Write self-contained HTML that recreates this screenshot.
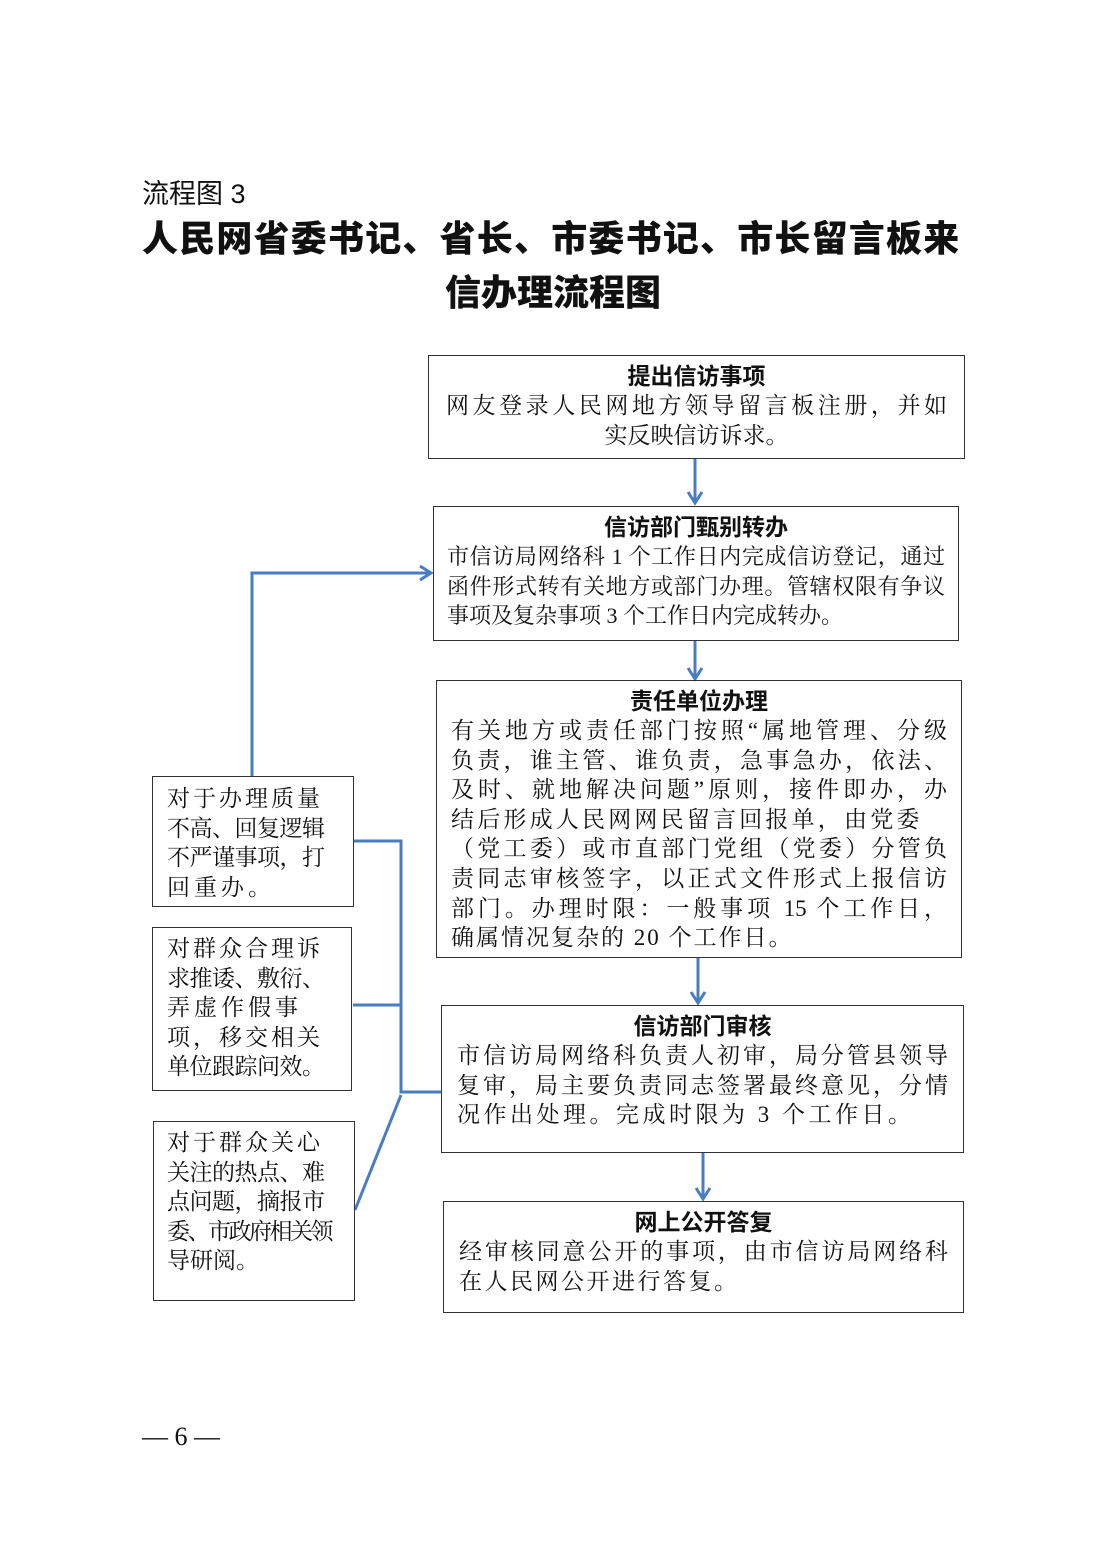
<!DOCTYPE html>
<html><head><meta charset="utf-8"><style>
body{margin:0;background:#fff;}
#p{position:relative;width:1102px;height:1559px;font-family:"Liberation Serif","Noto Serif CJK SC",serif;color:#111;overflow:hidden}
.a{position:absolute}
.box{position:absolute;border:1.5px solid #333;box-sizing:border-box}
.t{font-family:"Liberation Sans","Noto Sans CJK SC",sans-serif;font-weight:bold;text-align:center;font-size:23px;line-height:29px}
.l{font-size:23px;line-height:29.6px;white-space:nowrap}
.j{text-align:justify;text-align-last:justify}
</style></head><body><div id="p">
<div class="a" style="left:142px;top:172px;font-size:27px;font-family:'Liberation Sans','Noto Sans CJK SC',sans-serif">流程图 3</div>
<div class="a" style="left:142px;top:212px;width:822px;font-size:36px;font-weight:900;line-height:54px;font-family:'Liberation Sans','Noto Sans CJK SC',sans-serif;white-space:nowrap">
<div style="letter-spacing:1.2px">人民网省委书记、省长、市委书记、市长留言板来</div>
<div style="text-align:center">信办理流程图</div></div>

<svg class="a" style="left:0;top:0" width="1102" height="1559">
<g stroke="#4a7cc0" stroke-width="3" fill="none">
<line x1="695" y1="458" x2="695" y2="502"/>
<polyline points="688,492 695,503 702,492"/>
<line x1="695" y1="640" x2="695" y2="678"/>
<polyline points="688,668 695,679 702,668"/>
<line x1="698" y1="957" x2="698" y2="1002"/>
<polyline points="691,992 698,1003 705,992"/>
<line x1="703" y1="1152" x2="703" y2="1198"/>
<polyline points="696,1188 703,1199 710,1188"/>
<polyline points="252,776 252,573 430,573"/>
<polyline points="420,566 431,573 420,580"/>
<polyline points="353,841 401,841 401,1092 441,1092"/>
<line x1="353" y1="1005" x2="401" y2="1005"/>
<line x1="401" y1="1095" x2="355" y2="1210"/>
</g></svg>

<div class="box" style="left:428px;top:355px;width:537px;height:104px;padding:6px 17px 0">
<div class="t">提出信访事项</div>
<div class="l j">网友登录人民网地方领导留言板注册，并如</div>
<div class="l" style="text-align:center">实反映信访诉求。</div></div>

<div class="box" style="left:433px;top:506px;width:526px;height:135px;padding:6px 13px 0">
<div class="t">信访部门甄别转办</div>
<div class="l j" style="font-size:22px">市信访局网络科 1 个工作日内完成信访登记，通过</div>
<div class="l j" style="font-size:22px">函件形式转有关地方或部门办理。管辖权限有争议</div>
<div class="l" style="font-size:22px">事项及复杂事项 3 个工作日内完成转办。</div></div>

<div class="box" style="left:436px;top:680px;width:526px;height:278px;padding:6px 14px 0">
<div class="t">责任单位办理</div>
<div class="l j">有关地方或责任部门按照“属地管理、分级</div>
<div class="l j">负责，谁主管、谁负责，急事急办，依法、</div>
<div class="l j">及时、就地解决问题”原则，接件即办，办</div>
<div class="l" style="letter-spacing:3.2px">结后形成人民网网民留言回报单，由党委</div>
<div class="l j">（党工委）或市直部门党组（党委）分管负</div>
<div class="l j">责同志审核签字，以正式文件形式上报信访</div>
<div class="l j">部门。办理时限：一般事项 15 个工作日，</div>
<div class="l" style="letter-spacing:2px">确属情况复杂的 20 个工作日。</div></div>

<div class="box" style="left:441px;top:1005px;width:523px;height:148px;padding:6px 15px 0">
<div class="t">信访部门审核</div>
<div class="l j">市信访局网络科负责人初审，局分管县领导</div>
<div class="l j">复审，局主要负责同志签署最终意见，分情</div>
<div class="l" style="letter-spacing:3.5px">况作出处理。完成时限为 3 个工作日。</div></div>

<div class="box" style="left:443px;top:1201px;width:521px;height:112px;padding:6px 15px 0">
<div class="t">网上公开答复</div>
<div class="l j">经审核同意公开的事项，由市信访局网络科</div>
<div class="l" style="letter-spacing:2.5px">在人民网公开进行答复。</div></div>

<div class="box" style="left:152px;top:776px;width:202px;height:131px;padding:7px 14px 0">
<div class="l" style="letter-spacing:3px">对于办理质量</div>
<div class="l" style="letter-spacing:-0.5px">不高、回复逻辑</div>
<div class="l" style="letter-spacing:-0.5px">不严谨事项，打</div>
<div class="l" style="letter-spacing:4px">回重办。</div></div>

<div class="box" style="left:152px;top:927px;width:200px;height:164px;padding:6px 14px 0">
<div class="l" style="letter-spacing:3px">对群众合理诉</div>
<div class="l" style="letter-spacing:-0.5px">求推诿、敷衍、</div>
<div class="l" style="letter-spacing:4px">弄虚作假事</div>
<div class="l" style="letter-spacing:3px">项，移交相关</div>
<div class="l" style="letter-spacing:-0.5px">单位跟踪问效。</div></div>

<div class="box" style="left:153px;top:1121px;width:202px;height:180px;padding:6px 13px 0">
<div class="l" style="letter-spacing:3px">对于群众关心</div>
<div class="l" style="letter-spacing:-0.5px">关注的热点、难</div>
<div class="l" style="letter-spacing:-0.5px">点问题，摘报市</div>
<div class="l" style="letter-spacing:-2.5px">委、市政府相关领</div>
<div class="l">导研阅。</div></div>

<div class="a" style="left:142px;top:1422px;font-size:26px">— 6 —</div>
</div></body></html>
